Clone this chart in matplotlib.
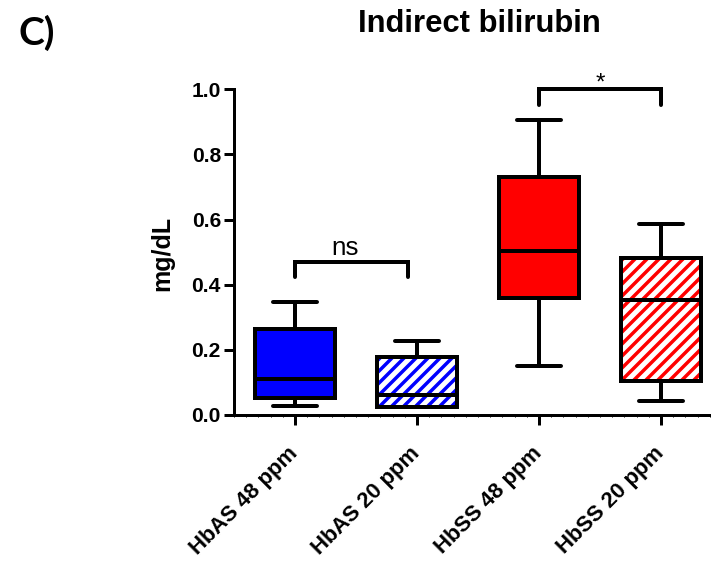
import matplotlib
matplotlib.use("Agg")
import matplotlib.pyplot as plt
from matplotlib.patches import PathPatch
from matplotlib.ticker import MultipleLocator

# Data
groups = ["HbAS 48 ppm", "HbAS 20 ppm", "HbSS 48 ppm", "HbSS 20 ppm"]
whislo = [0.028, 0.024, 0.150, 0.043]
q1 = [0.053, 0.024, 0.358, 0.104]
med = [0.110, 0.060, 0.505, 0.353]
q3 = [0.264, 0.179, 0.730, 0.483]
whishi = [0.348, 0.228, 0.906, 0.586]
colors = ["#0000FF", "#0000FF", "#FF0000", "#FF0000"]
hatched = [False, True, False, True]
yticks = [0.0, 0.2, 0.4, 0.6, 0.8, 1.0]

# significance brackets: (x1, x2, y_top, y_leg, label, label_x, label_y, size)
brackets = [
    (0.0, 0.93, 0.471, 0.424, "ns", 0.41, 0.49, 26),
    (2.0, 3.0, 1.0, 0.952, "*", 2.5, 1.0, 24),
]

plt.rcParams["font.family"] = ["Liberation Sans", "DejaVu Sans"]
plt.rcParams["hatch.linewidth"] = 5

fig = plt.figure(figsize=(711 / 72, 565 / 72), dpi=72)
ax = fig.add_axes([234 / 711, 150 / 565, 488 / 711, 325.7 / 565])

stats = []
for i in range(len(groups)):
    stats.append({
        "label": groups[i],
        "whislo": whislo[i],
        "q1": q1[i],
        "med": med[i],
        "q3": q3[i],
        "whishi": whishi[i],
        "fliers": [],
    })

bp = ax.bxp(
    stats,
    positions=range(len(groups)),
    widths=0.655,
    capwidths=0.36,
    patch_artist=True,
    showfliers=False,
    boxprops=dict(linewidth=4, edgecolor="black"),
    whiskerprops=dict(linewidth=4, color="black"),
    capprops=dict(linewidth=4, color="black", solid_capstyle="round"),
    medianprops=dict(linewidth=4, color="black", solid_capstyle="round"),
)

for box, c, h in zip(bp["boxes"], colors, hatched):
    box.set_facecolor(c)
    if h:
        # white stripes over the colour, then a black outline on top
        box.set_edgecolor("white")
        box.set_hatch("//")
        box.set_linewidth(0)
        outline = PathPatch(box.get_path(), transform=box.get_transform(),
                            facecolor="none", edgecolor="black", linewidth=4,
                            zorder=box.get_zorder() + 0.05)
        ax.add_patch(outline)
for m in bp["medians"]:
    m.set_zorder(5)

# brackets
for x1, x2, yt, yl, lab, lx, ly, fs in brackets:
    ax.plot([x1, x1, x2, x2], [yl, yt, yt, yl], color="black", lw=4,
            solid_capstyle="round", solid_joinstyle="miter", clip_on=False)
    ax.text(lx, ly, lab, ha="center", va="baseline", fontsize=fs,
            clip_on=False)

ax.set_xlim(-0.5, 3.5)
ax.set_ylim(0, 1.0)
ax.spines["top"].set_visible(False)
ax.spines["right"].set_visible(False)
ax.spines["left"].set_linewidth(3)
ax.spines["bottom"].set_linewidth(3)

ax.set_yticks(yticks)
ax.set_yticklabels([f"{v:.1f}" for v in yticks], fontsize=21, fontweight="bold")
ax.set_xticks(range(len(groups)))
ax.set_xticklabels(groups, rotation=45, ha="right", va="center",
                   rotation_mode="anchor", fontsize=22, fontweight="bold")
ax.xaxis.set_minor_locator(MultipleLocator(0.1))
ax.tick_params(axis="both", which="major", length=10, width=3, color="black")
ax.tick_params(axis="y", pad=3)
ax.tick_params(axis="x", pad=25)
ax.tick_params(axis="x", which="minor", length=2, width=1)
ax.tick_params(axis="y", which="minor", left=False)

fig.text(162.5 / 711, 1 - 253 / 565, "mg/dL", rotation=90, ha="center",
         va="center", fontsize=25, fontweight="bold")
fig.text(479 / 711, 1 - 31.7 / 565, "Indirect bilirubin", ha="center",
         va="baseline", fontsize=31, fontweight="bold")
fig.text(18 / 711, 1 - 45 / 565, "C)", ha="left", va="baseline",
         fontsize=39, fontweight="bold", family=["Lato", "DejaVu Sans"])

fig.savefig("out.png", dpi=72)
